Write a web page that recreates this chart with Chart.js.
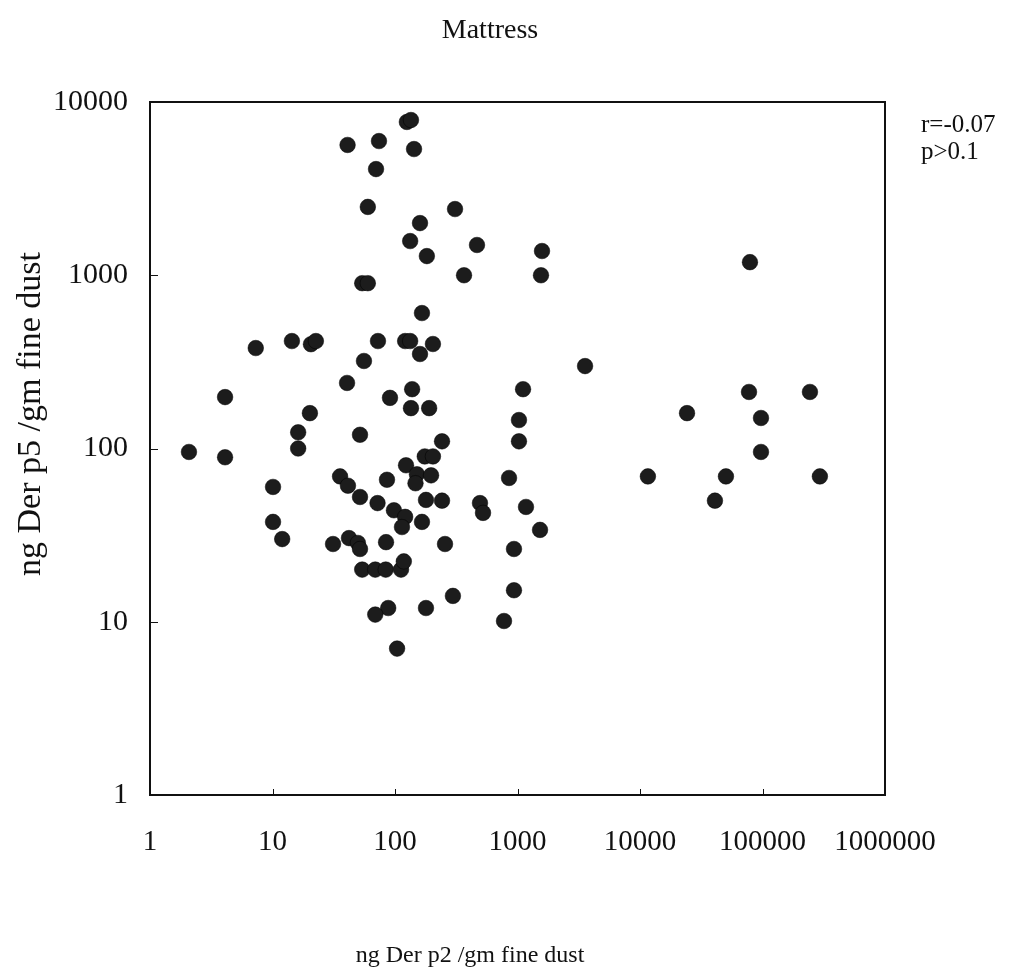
<!DOCTYPE html>
<html>
<head>
<meta charset="utf-8">
<script src="https://cdn.jsdelivr.net/npm/chart.js@4/dist/chart.umd.min.js"></script>
<style>
  html, body { margin: 0; padding: 0; background: #fff; }
  #wrap { width: 1027px; height: 977px; position: relative; }
</style>
</head>
<body>
<div id="wrap"><canvas id="scatter"></canvas></div>
<script>
// Der p2 (x) and Der p5 (y), ng / gm fine dust
const derP2 = [
  125, 135, 41, 74, 143, 70, 60, 309, 160, 133,
  467, 182, 1585, 366, 1555, 79000, 54, 60, 166, 7.3,
  14.4, 20.6, 22.6, 72.6, 121, 133, 160, 204, 55.8, 3560,
  40.6, 4.1, 91, 138, 135, 190, 1110, 20.2, 16.2, 16.2,
  51.8, 2.08, 4.1, 1028, 1028, 242, 175, 204, 77600, 244000,
  24200, 97200, 97200, 10.1, 35.6, 41.3, 51.8, 72, 86, 123,
  151, 147, 197, 179, 242, 98, 121, 114, 166, 494,
  523, 1173, 853, 1527, 11600, 50300, 294000, 40900, 10.1, 12,
  31.2, 42.1, 49.8, 51.8, 84.5, 256, 936, 54, 69, 84,
  112, 118, 297, 936, 179, 88, 69, 776, 104
];
const derP5 = [
  7670, 7870, 5650, 5950, 5350, 4100, 2480, 2410, 2000, 1575,
  1495, 1290, 1380, 1000, 1000, 1190, 900, 900, 605, 380,
  417, 400, 417, 417, 417, 417, 351, 401, 320, 299,
  239, 198, 196, 220, 171, 171, 220, 160, 124, 100,
  120, 95.5, 89, 146, 110, 110, 90, 90, 212, 212,
  160, 150, 95.5, 60, 69, 61, 52.5, 48.4, 66, 80,
  71, 63, 70, 50.5, 50, 44, 40.3, 35.2, 37.7, 48.4,
  42.5, 46, 67.6, 33.9, 69, 69, 69, 50, 37.7, 30,
  28.1, 30.4, 28.5, 26.3, 28.8, 28.1, 26.3, 20, 20, 20,
  20, 22.3, 14.1, 15.2, 12, 12, 11, 10.1, 7.0
];

const xTicks = [1, 10, 100, 1000, 10000, 100000, 1000000];
const yTicks = [1, 10, 100, 1000, 10000];

const chartTitle = 'Mattress';
const xTitle = 'ng Der p2 /gm fine dust';
const yTitle = 'ng Der p5 /gm fine dust';
const statLines = ['r=-0.07', 'p>0.1'];

const points = derP2.map((x, i) => ({ x: x, y: derP5[i] }));

const serif = "'Liberation Serif', 'Times New Roman', serif";

// frame, inward ticks and the loose text of the figure
const paperPlugin = {
  id: 'paper',
  afterDraw(chart) {
    const ctx = chart.ctx;
    const a = chart.chartArea;
    const xs = chart.scales.x, ys = chart.scales.y;
    ctx.save();
    ctx.strokeStyle = '#111';
    ctx.lineWidth = 2;
    ctx.strokeRect(a.left, a.top, a.right - a.left, a.bottom - a.top);

    ctx.lineWidth = 1;
    ctx.beginPath();
    xTicks.forEach(v => {
      const px = Math.round(xs.getPixelForValue(v)) + 0.5;
      ctx.moveTo(px, a.bottom);
      ctx.lineTo(px, a.bottom - 6);
    });
    yTicks.forEach(v => {
      const py = Math.round(ys.getPixelForValue(v)) + 0.5;
      ctx.moveTo(a.left, py);
      ctx.lineTo(a.left + 8, py);
    });
    ctx.stroke();

    ctx.fillStyle = '#111';
    ctx.textBaseline = 'middle';
    ctx.textAlign = 'center';
    ctx.font = '28px ' + serif;
    ctx.fillText(chartTitle, 490, 31);

    ctx.font = '24px ' + serif;
    ctx.fillText(xTitle, 470, 956);

    ctx.save();
    ctx.translate(31, 414);
    ctx.rotate(-Math.PI / 2);
    ctx.font = '34px ' + serif;
    ctx.fillText(yTitle, 0, 0);
    ctx.restore();

    ctx.textAlign = 'left';
    ctx.font = '25px ' + serif;
    statLines.forEach((s, i) => ctx.fillText(s, 921, 125 + i * 27));
    ctx.restore();
  }
};

new Chart(document.getElementById('scatter'), {
  type: 'scatter',
  data: {
    datasets: [{
      data: points,
      pointRadius: 7.8,
      pointHoverRadius: 7.8,
      backgroundColor: '#1c1c1c',
      borderColor: '#000',
      borderWidth: 0.5
    }]
  },
  options: {
    responsive: true,
    maintainAspectRatio: false,
    animation: false,
    layout: { padding: { left: 0, top: 102, right: 142, bottom: 0 } },
    plugins: {
      legend: { display: false },
      tooltip: { enabled: false },
      title: { display: false }
    },
    scales: {
      x: {
        type: 'logarithmic',
        min: 1,
        max: 1000000,
        afterBuildTicks: s => { s.ticks = xTicks.map(v => ({ value: v })); },
        afterFit: s => { s.height = 182; },
        grid: { display: false, drawTicks: false },
        border: { display: false },
        ticks: {
          padding: 30,
          maxRotation: 0,
          autoSkip: false,
          color: '#111',
          font: { family: serif, size: 29 },
          callback: v => String(v)
        }
      },
      y: {
        type: 'logarithmic',
        min: 1,
        max: 10000,
        afterBuildTicks: s => { s.ticks = yTicks.map(v => ({ value: v })); },
        afterFit: s => { s.width = 150; },
        grid: { display: false, drawTicks: false },
        border: { display: false },
        ticks: {
          padding: 22,
          autoSkip: false,
          color: '#111',
          font: { family: serif, size: 30 },
          callback: v => String(v)
        }
      }
    }
  },
  plugins: [paperPlugin]
});
</script>
</body>
</html>
